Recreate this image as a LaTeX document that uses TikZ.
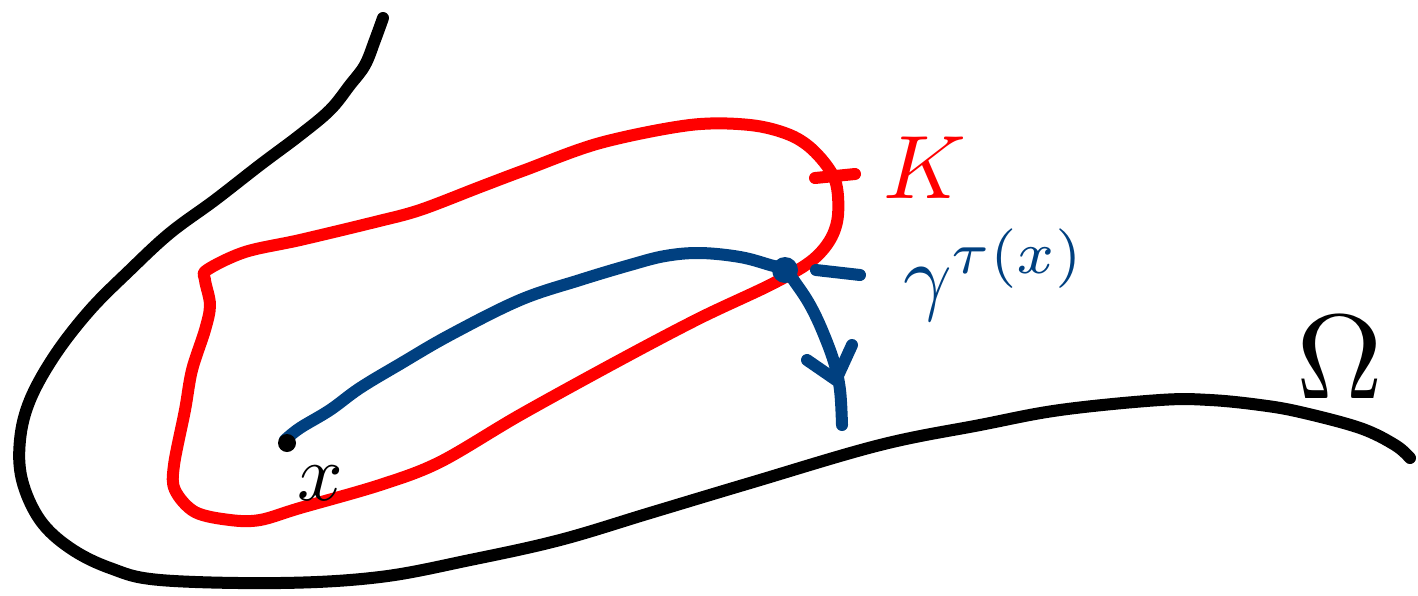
\documentclass[tikz,border=0pt]{standalone}
\usepackage{graphicx}
\begin{document}
\begin{tikzpicture}[x=1pt,y=-1pt,
  pen/.style={line width=12pt,line cap=round,line join=round},
  lbl/.style={inner sep=0pt}]
\definecolor{kred}{RGB}{255,0,0}
\definecolor{gblue}{RGB}{0,64,128}
\useasboundingbox (0,0) rectangle (1418,595);
% boundary of Omega
\draw[pen,black] plot[smooth,tension=0.6] coordinates {(383,18) (375,40) (365,65) (350,85) (330,110) (300,135) (260,165) (215,200) (170,233) (130,270) (90,310) (55,355) (30,400) (20,440) (22,480) (40,520) (70,548) (110,568) (160,580) (280,583) (380,577) (470,560) (560,540) (650,513) (750,483) (880,445) (980,425) (1060,410) (1160,400) (1210,400) (1260,405) (1300,412) (1360,428) (1395,445) (1410,458)};
% set K
\draw[pen,kred] plot[smooth cycle,tension=0.55] coordinates {(207,270) (245,252) (300,240) (375,222) (420,210) (480,187) (525,170) (600,143) (690,125) (750,125) (790,135) (815,152) (835,180) (838,215) (830,240) (810,262) (770,285) (700,318) (620,360) (520,415) (440,462) (380,485) (300,508) (260,520) (230,520) (195,512) (175,490) (174,465) (185,410) (192,370) (205,330) (210,305) (205,280)};
\draw[pen,kred] (815,178) -- (855,174);
% trajectory
\coordinate (x0) at (287,443);
\coordinate (gt) at (785,270);
\draw[pen,gblue] plot[smooth,tension=0.6] coordinates {(285,440) (300,428) (330,410) (360,388) (400,364) (450,335) (520,300) (580,280) (630,265) (665,256) (700,253) (740,257) (770,265) (785,270) (797,285) (810,305) (822,330) (834,362) (840,390) (842,425)};
\draw[pen,gblue] (807,360) -- (836,380) -- (852,345);
\fill[black] (x0) circle (9);
\fill[gblue] (gt) circle (13);
\draw[pen,gblue] (816,270) -- (860,275);
% labels
\node[lbl,text=kred] (K) at (925,168) {\scalebox{9}{$K$}};
\node[lbl,text=gblue,anchor=west] (gam) at (903,275) {\scalebox{8.5}{$\gamma^{\tau(x)}$}};
\node[lbl] (Om) at (1340,357) {\scalebox{12}{$\Omega$}};
\node[lbl] (xl) at (320,483) {\scalebox{8}{$x$}};
\end{tikzpicture}
\end{document}
